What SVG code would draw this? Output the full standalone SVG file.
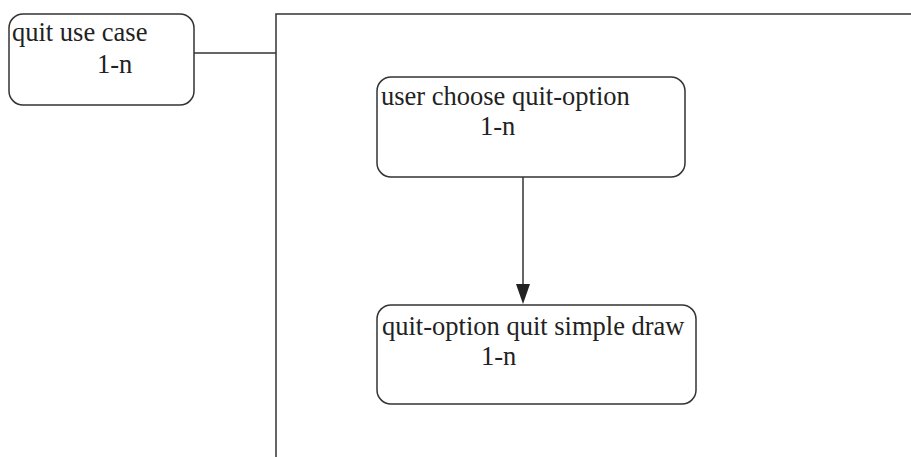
<svg xmlns="http://www.w3.org/2000/svg" width="911" height="457" viewBox="0 0 911 457">
<style>
.box{fill:#fff;stroke:#333;stroke-width:1.5}
.ln{fill:none;stroke:#333;stroke-width:1.5}
text{font-family:"Liberation Serif","Times New Roman",serif;font-size:26.5px;fill:#222}
</style>
<rect width="911" height="457" fill="#fff"/>
<g id="frame">
<path class="ln" d="M276,457 L276,14 L911,14"/>
</g>
<g id="connectors">
<line class="ln" x1="194" y1="53" x2="276" y2="53"/>
<line class="ln" x1="523" y1="177" x2="523" y2="286"/>
<path d="M516,284 L530,284 L523,304 Z" fill="#222"/>
</g>
<g id="n1">
<rect class="box" x="9" y="14" width="185" height="91" rx="14"/>
<text x="12" y="41">quit use case</text>
<text x="97" y="73">1-n</text>
</g>
<g id="n2">
<rect class="box" x="377" y="77" width="308" height="100" rx="14"/>
<text x="381" y="105">user choose quit-option</text>
<text x="480" y="135">1-n</text>
</g>
<g id="n3">
<rect class="box" x="377" y="305" width="319" height="99" rx="14"/>
<text x="382" y="335">quit-option quit simple draw</text>
<text x="481" y="365">1-n</text>
</g>
</svg>
